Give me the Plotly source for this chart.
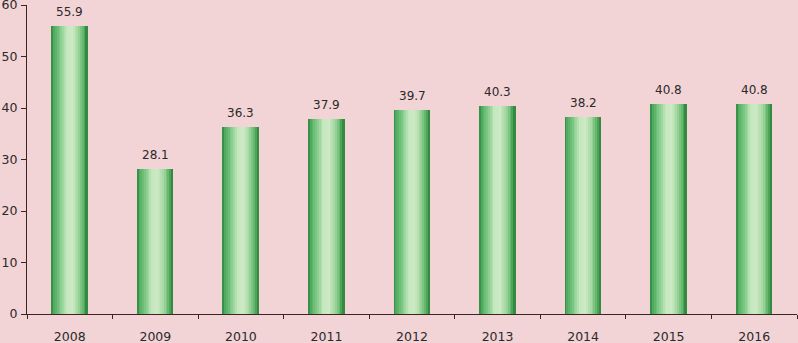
import plotly.graph_objects as go

years = ["2008", "2009", "2010", "2011", "2012", "2013", "2014", "2015", "2016"]
values = [55.9, 28.1, 36.3, 37.9, 39.7, 40.3, 38.2, 40.8, 40.8]
labels = ["55.9", "28.1", "36.3", "37.9", "39.7", "40.3", "38.2", "40.8", "40.8"]
y_ticks = [0, 10, 20, 30, 40, 50, 60]

BG = "#F2D3D6"
BAR_W = 0.42
N = 20

stops = [
    (0.00, (40, 128, 56)),
    (0.06, (75, 168, 90)),
    (0.25, (130, 203, 136)),
    (0.42, (196, 231, 190)),
    (0.58, (205, 234, 198)),
    (0.74, (165, 216, 162)),
    (0.90, (90, 178, 102)),
    (1.00, (38, 124, 52)),
]

def grad(t):
    for (a, ca), (b, cb) in zip(stops[:-1], stops[1:]):
        if a <= t <= b:
            f = (t - a) / (b - a) if b > a else 0
            c = [round(ca[k] + (cb[k] - ca[k]) * f) for k in range(3)]
            return "rgb(%d,%d,%d)" % tuple(c)
    return "rgb(%d,%d,%d)" % stops[-1][1]

fig = go.Figure()
sw = BAR_W / N
for i in range(N):
    t = (i + 0.5) / N
    fig.add_trace(go.Bar(
        x=years, y=values,
        width=[sw * 1.05] * len(years),
        offset=[-BAR_W / 2 + i * sw] * len(years),
        marker=dict(color=grad(t), line=dict(width=0)),
        showlegend=False, hoverinfo="skip",
    ))

for idx, (yv, tv) in enumerate(zip(values, labels)):
    fig.add_annotation(x=idx, y=yv, text=tv, showarrow=False,
                       yanchor="bottom", yshift=5,
                       font=dict(family="DejaVu Sans", size=12, color="#2a2a2a"))

fig.update_layout(
    width=798, height=343,
    margin=dict(l=27, r=1, t=5, b=29, autoexpand=False),
    paper_bgcolor=BG, plot_bgcolor=BG,
    barmode="overlay", bargap=0,
    font=dict(family="DejaVu Sans", size=12.5, color="#2a2a2a"),
    xaxis=dict(type="category", categoryorder="array", categoryarray=years,
               range=[-0.5, len(years) - 0.5], tickangle=0, automargin=False,
               ticklabeloverflow="allow",
               showgrid=False, showline=True, linecolor="#3a2424",
               linewidth=1, ticks="outside", tickson="boundaries", ticklen=4,
               tickcolor="#3a2424", ticklabelstandoff=11, zeroline=False),
    yaxis=dict(range=[0, 60], tickvals=y_ticks, showgrid=False, showline=True,
               automargin=False, ticklabeloverflow="allow",
               linecolor="#3a2424", linewidth=1, ticks="outside", ticklen=5,
               tickcolor="#3a2424", zeroline=False, ticklabelstandoff=1),
)

fig.write_html("out.html", config={"displayModeBar": False},
               post_script="document.body.style.margin='0';document.body.style.overflow='hidden';")
